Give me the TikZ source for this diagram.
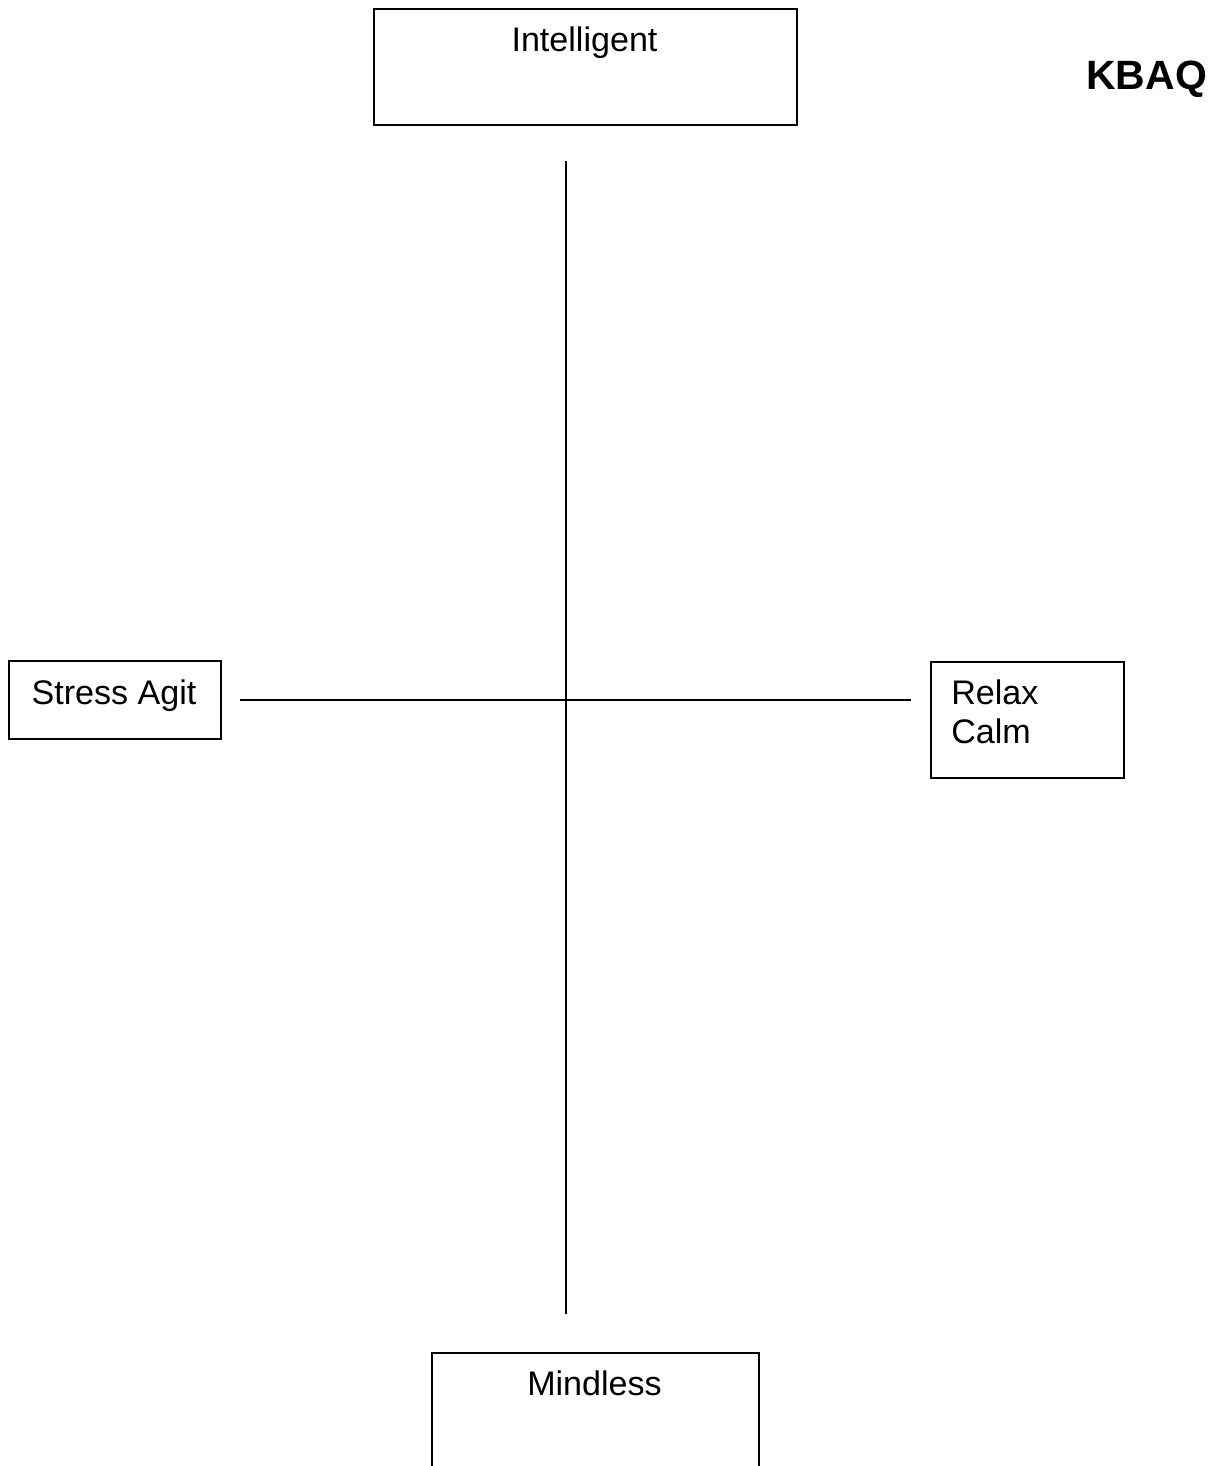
\documentclass[tikz,border=0pt]{standalone}
\usepackage{fontspec}
\setmainfont{Liberation Sans}
\usetikzlibrary{positioning}

\begin{document}
\begin{tikzpicture}[
  x=0.02cm, y=-0.02cm,
  mybox/.style={draw,rectangle,line width=1pt,inner sep=0pt,anchor=north west},
  mytext/.style={inner sep=0pt,font=\fontsize{19.4}{22.2}\selectfont},
  axis/.style={line width=1pt}
]
\clip (0,0) rectangle (1218,1466);

\node[mybox,minimum width=8.46cm,minimum height=2.32cm] (int) at (373,8) {};
\node[mytext,anchor=base] (intt) at (584.5,52) {Intelligent};

\node[mybox,minimum width=4.24cm,minimum height=1.56cm] (str) at (8,660) {};
\node[mytext,anchor=base] (strt) at (114,704) {Stress Agit};

\node[mybox,minimum width=3.86cm,minimum height=2.32cm] (rel) at (930,661) {};
\node[mytext,anchor=base west,align=left] (relt) at (951,743) {Relax\\Calm};

\node[mybox,minimum width=6.54cm,minimum height=3cm] (mind) at (431,1352) {};
\node[mytext,anchor=base] (mindt) at (594.5,1395) {Mindless};

\node[inner sep=0pt,anchor=base west,font=\fontsize{23.3}{28}\selectfont\bfseries] (kbaq) at (1086,90) {KBAQ};

\coordinate (vtop) at (566,161);
\coordinate (vbot) at (566,1314);
\coordinate (hl) at (240,700);
\coordinate (hr) at (911,700);

\draw[axis] (vtop) -- (vbot);
\draw[axis] (hl) -- (hr);

\end{tikzpicture}
\end{document}
